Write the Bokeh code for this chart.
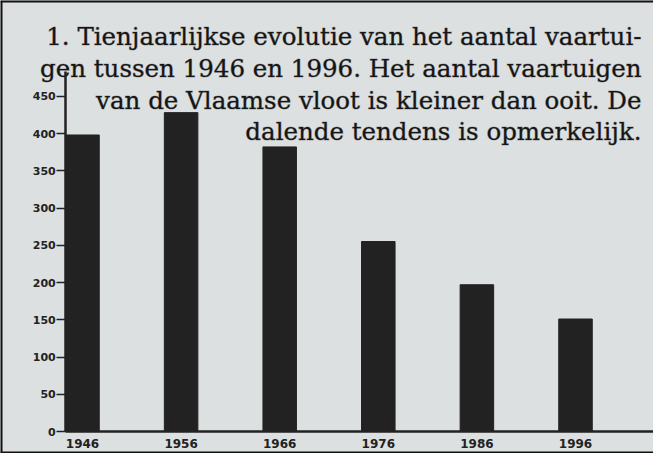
from bokeh.plotting import figure
from bokeh.models import LinearAxis, FixedTicker, Span, Range1d
from bokeh.core.properties import value
from bokeh.embed import file_html
from bokeh.resources import INLINE

# ---- data ----
years = [1946, 1956, 1966, 1976, 1986, 1996]
vessels = [398, 428, 382, 255, 197, 151]
year_labels = ["1946", "1956", "1966", "1976", "1986", "1996"]
y_ticks = [0, 50, 100, 150, 200, 250, 300, 350, 400, 450]
title_lines = [
    "1. Tienjaarlijkse evolutie van het aantal vaartui-",
    "gen tussen 1946 en 1996. Het aantal vaartuigen",
    "van de Vlaamse vloot is kleiner dan ooit. De",
    "dalende tendens is opmerkelijk.",
]

# ---- layout ----
W, H = 653, 453
PX_YEAR = 9.86      # pixels per year
PX_UNIT = 0.745     # pixels per vessel
first_center_px = 82
baseline_px = 431
x_start = years[0] - first_center_px / PX_YEAR
x_end = x_start + W / PX_YEAR
y_start = -(H - baseline_px) / PX_UNIT
y_end = y_start + H / PX_UNIT
bar_w = 3.4
axis_x = years[0] - bar_w / 2

paper = "#dde0e0"
ink = "#222222"

p = figure(width=W, height=H, output_backend="svg", toolbar_location=None,
           x_range=Range1d(x_start, x_end), y_range=Range1d(y_start, y_end),
           x_axis_location=None, y_axis_location=None, min_border=0)
p.background_fill_color = paper
p.border_fill_color = paper
p.outline_line_color = None
p.grid.visible = False

p.vbar(x=years, top=vessels, bottom=0, width=bar_w, fill_color=ink, line_color=ink)

yaxis = LinearAxis(fixed_location=axis_x, ticker=FixedTicker(ticks=y_ticks),
                   bounds=(0, 483))
yaxis.major_tick_out = 9
yaxis.major_tick_in = 0
yaxis.minor_tick_out = 0
yaxis.minor_tick_in = 0
yaxis.axis_line_width = 2.5
yaxis.axis_line_color = ink
yaxis.major_tick_line_width = 1.5
yaxis.major_tick_line_color = ink
yaxis.major_label_standoff = 1
yaxis.major_label_text_font = "DejaVu Sans"
yaxis.major_label_text_font_style = "bold"
yaxis.major_label_text_font_size = "11px"
yaxis.major_label_text_color = ink
p.add_layout(yaxis, "left")

xaxis = LinearAxis(fixed_location=0, ticker=FixedTicker(ticks=years),
                   bounds=(axis_x, x_end))
xaxis.major_label_overrides = {y: l for y, l in zip(years, year_labels)}
xaxis.major_tick_out = 0
xaxis.major_tick_in = 0
xaxis.minor_tick_out = 0
xaxis.minor_tick_in = 0
xaxis.axis_line_width = 2.5
xaxis.axis_line_color = ink
xaxis.major_label_standoff = 7
xaxis.major_label_text_font = "DejaVu Sans"
xaxis.major_label_text_font_style = "bold"
xaxis.major_label_text_font_size = "12px"
xaxis.major_label_text_color = ink
p.add_layout(xaxis, "below")

# frame border (left, top, bottom)
for loc, dim in [(x_start, "height"), (y_end, "width"), (y_start, "width")]:
    p.add_layout(Span(location=loc, dimension=dim, line_color="#111111", line_width=4))

# title text, right aligned
baselines_px = [36, 68, 99.5, 130.5]
right_px = 641
p.text(x=[x_start + right_px / PX_YEAR] * len(title_lines),
       y=[y_end - b / PX_UNIT for b in baselines_px],
       text=title_lines, text_align="right", text_baseline="alphabetic",
       text_font=value("DejaVu Serif"), text_font_size="24.5px",
       text_color="#151515", text_outline_color="rgba(21,21,21,0.35)")

open("out.html", "w").write(file_html(p, INLINE))
